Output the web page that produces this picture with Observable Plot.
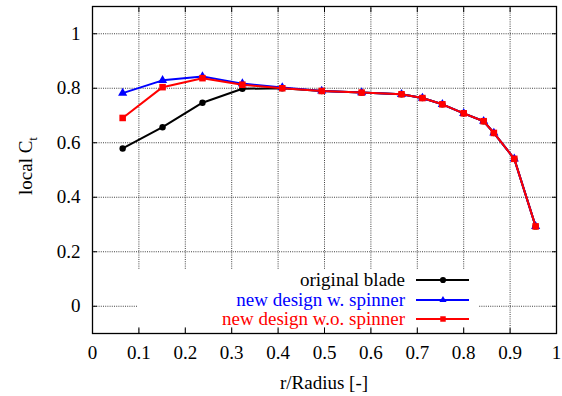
<!DOCTYPE html>
<html>
<head>
<meta charset="utf-8">
<script src="https://cdn.jsdelivr.net/npm/d3@7"></script>
<script src="https://cdn.jsdelivr.net/npm/@observablehq/plot@0.6"></script>
<style>
  html, body { margin: 0; padding: 0; background: #fff; }
  svg { display: block; }
</style>
</head>
<body>
<div id="chart"></div>
<script>
const radius = [0.065, 0.151, 0.237, 0.323, 0.409, 0.494, 0.580, 0.666, 0.711, 0.754, 0.800, 0.843, 0.865, 0.909, 0.955];
const originalBlade = [0.579, 0.657, 0.747, 0.798, 0.800, 0.790, 0.784, 0.778, 0.764, 0.741, 0.708, 0.679, 0.636, 0.541, 0.293];
const withSpinner = [0.782, 0.829, 0.843, 0.817, 0.803, 0.790, 0.784, 0.778, 0.764, 0.741, 0.708, 0.679, 0.636, 0.541, 0.293];
const withoutSpinner = [0.691, 0.804, 0.837, 0.813, 0.800, 0.790, 0.784, 0.778, 0.764, 0.741, 0.708, 0.679, 0.636, 0.541, 0.293];
const seriesNames = ["original blade", "new design w. spinner", "new design w.o. spinner"];
const seriesColors = ["#000000", "#0000ff", "#ff0000"];
const seriesSymbols = ["circle", "triangle", "square"];
const xTicks = [0, 0.1, 0.2, 0.3, 0.4, 0.5, 0.6, 0.7, 0.8, 0.9, 1];
const yTicks = [0, 0.2, 0.4, 0.6, 0.8, 1];
const xLabel = "r/Radius [-]";

const seriesValues = [originalBlade, withSpinner, withoutSpinner];
const seriesData = seriesValues.map((vals, i) => vals.map((v, j) => ({r: radius[j], ct: v, s: seriesNames[i]})));
const symbolR = [3.2, 3.4, 3.7];

const fmt = d => d3.format("")(+d.toFixed(1));
const ff = "Liberation Serif";
const fs = 19;

const gridStyle = {stroke: "#000", strokeOpacity: 0.75, strokeDasharray: "1,1.2"};
const tickOnly = {tickSize: -5, fill: "none", label: null};
const marks = [
  Plot.gridX(xTicks.filter(d => d > 0 && d < 1), gridStyle),
  Plot.gridY(yTicks, gridStyle),
  Plot.axisX(xTicks, {anchor: "bottom", tickSize: 0, tickPadding: 12, tickFormat: fmt, label: null, fontSize: fs, fontFamily: ff}),
  Plot.axisX(xTicks, {anchor: "bottom", ...tickOnly}),
  Plot.axisX(xTicks, {anchor: "top", ...tickOnly}),
  Plot.axisY(yTicks, {anchor: "left", tickSize: 0, tickPadding: 12, tickFormat: fmt, label: null, fontSize: fs, fontFamily: ff}),
  Plot.axisY(yTicks, {anchor: "left", ...tickOnly}),
  Plot.axisY(yTicks, {anchor: "right", ...tickOnly}),
];
seriesData.forEach((data, i) => {
  marks.push(Plot.line(data, {x: "r", y: "ct", stroke: seriesColors[i], strokeWidth: 2}));
  marks.push(Plot.dot(data, {x: "r", y: "ct", fill: seriesColors[i], stroke: "none", symbol: seriesSymbols[i], r: symbolR[i]}));
});
marks.push(Plot.frame({stroke: "#000", strokeWidth: 1.3}));

const plot = Plot.plot({
  width: 562,
  height: 396,
  marginLeft: 92,
  marginRight: 6,
  marginTop: 6,
  marginBottom: 63,
  x: {domain: [0, 1]},
  y: {domain: [-0.1, 1.1]},
  style: {fontFamily: ff, fontSize: fs + "px", background: "#fff", color: "#000"},
  marks
});
document.getElementById("chart").appendChild(plot);

const svg = d3.select(plot);

// legend box (opaque, like gnuplot key)
const lg = svg.append("g");
lg.append("rect").attr("x", 137).attr("y", 270).attr("width", 342).attr("height", 57).attr("fill", "#fff");
const rowY = [280, 300, 319];
seriesNames.forEach((name, i) => {
  lg.append("text").attr("x", 405).attr("y", rowY[i]).attr("dy", "0.33em")
    .attr("text-anchor", "end").attr("fill", seriesColors[i])
    .attr("font-family", ff).style("font-size", fs + "px").text(name);
  lg.append("line").attr("x1", 416).attr("x2", 469).attr("y1", rowY[i]).attr("y2", rowY[i])
    .attr("stroke", seriesColors[i]).attr("stroke-width", 2);
  lg.append("path").attr("transform", `translate(443,${rowY[i]})`)
    .attr("d", d3.symbol(seriesSymbols[i] === "circle" ? d3.symbolCircle : seriesSymbols[i] === "triangle" ? d3.symbolTriangle : d3.symbolSquare, [30, 22, 30][i])())
    .attr("fill", seriesColors[i]);
});

// axis labels
svg.append("text").attr("x", 324).attr("y", 389).attr("text-anchor", "middle")
  .attr("font-family", ff).style("font-size", fs + "px").attr("fill", "#000").text(xLabel);
const yl = svg.append("text").attr("transform", "translate(32,166) rotate(-90)").attr("text-anchor", "middle")
  .attr("font-family", ff).style("font-size", fs + "px").attr("fill", "#000");
yl.append("tspan").text("local C");
yl.append("tspan").style("font-size", "13px").attr("dy", 5).text("t");
</script>
</body>
</html>
